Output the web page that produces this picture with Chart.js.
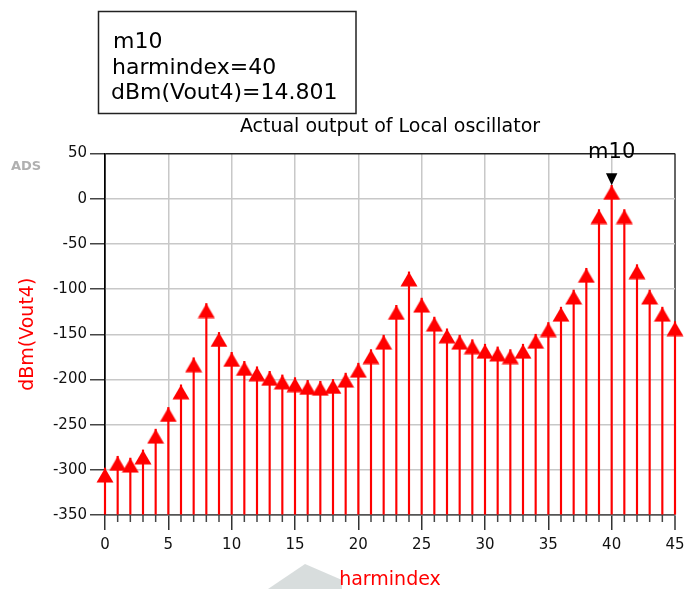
<!DOCTYPE html>
<html><head><meta charset="utf-8">
<script src="https://cdn.jsdelivr.net/npm/chart.js@4/dist/chart.umd.min.js"></script>
<style>html,body{margin:0;padding:0;background:#fff;}</style>
</head><body>
<canvas id="c" width="686" height="589"></canvas>
<script>
// ---- data ----
const harmindex = [0,1,2,3,4,5,6,7,8,9,10,11,12,13,14,15,16,17,18,19,20,21,22,23,24,25,26,27,28,29,30,31,32,33,34,35,36,37,38,39,40,41,42,43,44,45];
const dBmVout4 = [-298,-285,-287,-278,-255,-231,-206,-176,-116,-148,-170,-180,-186,-191,-195,-198,-201,-202,-200,-193,-182,-167,-151,-118,-81,-110,-131,-144,-151,-156,-161,-164,-167,-161,-150,-137,-120,-101,-77,-12,14.801,-12,-73,-101,-120,-136];
const yMin = -350, yMax = 50, yStep = 50;
const xMin = 0, xMax = 45, xMajor = 5;
const chartTitle = 'Actual output of Local oscillator';
const xTitle = 'harmindex';
const yTitle = 'dBm(Vout4)';
const markerName = 'm10';
const markerIndex = 40;
const markerLines = ['m10', 'harmindex=40', 'dBm(Vout4)=14.801'];

const FONT = '"DejaVu Sans", sans-serif';
Chart.defaults.font.family = FONT;
Chart.defaults.font.size = 15;
Chart.defaults.color = '#111';

// triangle image with apex at image centre
function makeTriangle() {
  const c = document.createElement('canvas');
  c.width = 18; c.height = 30;
  const g = c.getContext('2d');
  g.fillStyle = '#ff0000';
  g.beginPath();
  g.moveTo(9, 15);
  g.lineTo(17.5, 29.5);
  g.lineTo(0.5, 29.5);
  g.closePath();
  g.fill();
  return c;
}
const tri = makeTriangle();

const points = harmindex.map((x, i) => ({x: x, y: dBmVout4[i]}));

const decor = {
  id: 'decor',
  beforeDraw(chart) {
    const ctx = chart.ctx;
    ctx.save();
    ctx.fillStyle = '#fff';
    ctx.fillRect(0, 0, chart.width, chart.height);
    // ADS watermark shape
    ctx.fillStyle = 'rgba(200,206,206,0.7)';
    ctx.beginPath();
    ctx.moveTo(305, 564);
    ctx.lineTo(342, 580);
    ctx.lineTo(342, 589);
    ctx.lineTo(268, 589);
    ctx.closePath();
    ctx.fill();
    // ADS text watermark
    ctx.filter = 'blur(0.7px)';
    ctx.fillStyle = '#b0b0b0';
    ctx.font = 'bold 13px ' + FONT;
    ctx.textAlign = 'left';
    ctx.textBaseline = 'alphabetic';
    ctx.fillText('ADS', 11, 170);
    ctx.filter = 'none';
    ctx.restore();
  },
  afterDraw(chart) {
    const ctx = chart.ctx;
    const xs = chart.scales.x, ys = chart.scales.y;
    const area = chart.chartArea;
    ctx.save();
    // minor ticks on x axis
    ctx.strokeStyle = '#444';
    ctx.lineWidth = 1.5;
    harmindex.forEach(v => {
      if (v % xMajor !== 0) {
        const px = xs.getPixelForValue(v);
        ctx.beginPath();
        ctx.moveTo(px, area.bottom);
        ctx.lineTo(px, area.bottom + 7);
        ctx.stroke();
      }
    });
    // title
    ctx.fillStyle = '#000';
    ctx.font = '19px ' + FONT;
    ctx.textAlign = 'center';
    ctx.textBaseline = 'alphabetic';
    ctx.fillText(chartTitle, (area.left + area.right) / 2, 131.5);
    // marker readout box
    ctx.strokeStyle = '#222';
    ctx.lineWidth = 1.5;
    ctx.strokeRect(98.5, 11.5, 257.5, 102);
    ctx.textAlign = 'left';
    ctx.font = '22px ' + FONT;
    ctx.fillText(markerLines[0], 113, 47.5);
    ctx.fillText(markerLines[1], 112, 73.5);
    ctx.fillText(markerLines[2], 111, 99);
    // marker on the plot
    const mx = xs.getPixelForValue(harmindex[markerIndex]);
    const my = ys.getPixelForValue(dBmVout4[markerIndex]);
    ctx.fillStyle = '#000';
    ctx.beginPath();
    ctx.moveTo(mx - 5.7, my - 12);
    ctx.lineTo(mx + 5.7, my - 12);
    ctx.lineTo(mx, my);
    ctx.closePath();
    ctx.fill();
    ctx.font = '21px ' + FONT;
    ctx.textAlign = 'center';
    ctx.fillText(markerName, mx, my - 27);
    ctx.restore();
  }
};

const tickFont = { family: FONT, size: 15 };

new Chart(document.getElementById('c'), {
  type: 'bar',
  data: {
    datasets: [
      { type: 'line', data: points, showLine: false, pointStyle: tri, pointRadius: 8, pointHoverRadius: 8, clip: false, order: 0 },
      { type: 'bar', data: points, base: yMin, backgroundColor: '#ff0000', borderWidth: 0, barThickness: 1.5, clip: false, order: 1 }
    ]
  },
  options: {
    responsive: false,
    animation: false,
    events: [],
    layout: { padding: { left: 0, right: 11, top: 153.5, bottom: 0 } },
    plugins: { legend: { display: false }, tooltip: { enabled: false }, title: { display: false } },
    scales: {
      x: {
        type: 'linear', min: xMin, max: xMax, offset: false,
        afterFit: s => { s.height = 74; s.paddingLeft = 0; s.paddingRight = 0; },
        ticks: { stepSize: 1, autoSkip: false, maxRotation: 0, minRotation: 0, callback: v => (v % xMajor === 0 ? String(v) : ''), font: tickFont, color: '#111', padding: 6 },
        grid: {
          offset: false,
          color: c => { const v = c.tick ? c.tick.value : -1; if (v % xMajor !== 0) return 'rgba(0,0,0,0)'; if (v === xMin) return '#000'; if (v === xMax) return '#666'; return '#c8c8c8'; },
          lineWidth: c => (c.tick && c.tick.value === xMax ? 2 : 1.5),
          tickColor: c => (c.tick && c.tick.value % xMajor === 0 ? '#333' : 'rgba(0,0,0,0)'),
          tickLength: 15, tickWidth: 1.5
        },
        border: { display: true, color: '#555', width: 1.5 },
        title: { display: true, text: xTitle, color: '#ff0000', font: { family: FONT, size: 19, lineHeight: 0.9 }, padding: 0 }
      },
      y: {
        type: 'linear', min: yMin, max: yMax,
        afterFit: s => { s.width = 105; s.paddingTop = 0; s.paddingBottom = 0; },
        ticks: { stepSize: yStep, font: tickFont, color: '#111', padding: 3 },
        grid: {
          color: c => { const v = c.tick ? c.tick.value : 0; if (v === yMax) return '#222'; if (v === yMin) return '#555'; return '#c8c8c8'; },
          lineWidth: 1.5, tickColor: '#444', tickLength: 15, tickWidth: 1.5
        },
        border: { display: true, color: '#000', width: 1.5 },
        title: { display: true, text: yTitle, color: '#ff0000', font: { family: FONT, size: 19 }, padding: { top: 17, bottom: 0 } }
      }
    }
  },
  plugins: [decor]
});
</script>
</body></html>
